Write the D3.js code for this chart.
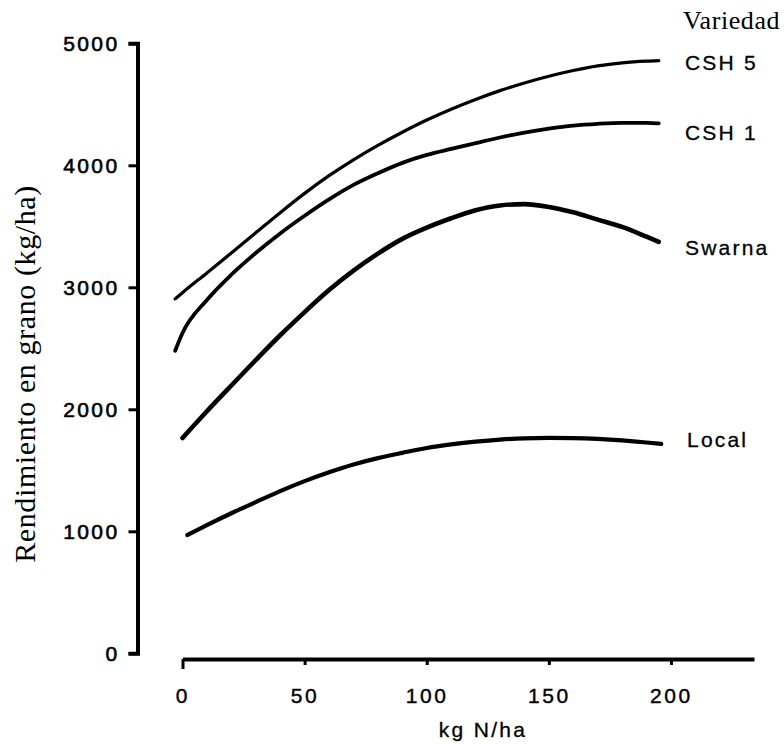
<!DOCTYPE html>
<html>
<head>
<meta charset="utf-8">
<script src="https://cdn.jsdelivr.net/npm/d3@7/dist/d3.min.js"></script>
<style>
  html, body { margin: 0; padding: 0; background: #fff; }
  svg { display: block; }
  .sans { font-family: "Liberation Sans", Arial, Helvetica, sans-serif; }
  .serif { font-family: "Liberation Serif", "Times New Roman", serif; }
</style>
</head>
<body>
<svg id="chart" width="784" height="744"></svg>
<script>
// Nitrogen rates (kg N/ha) at which each response curve is traced
const nCSH = [-3, 0, 10, 20, 30, 40, 50, 60, 70, 80, 90, 100, 110, 120, 130, 140, 150, 160, 170, 180, 190, 195];
const nSwarna = [0, 10, 20, 30, 40, 50, 60, 70, 80, 90, 100, 110, 120, 130, 140, 150, 160, 170, 180, 190, 195];
const nLocal = [2, 10, 20, 30, 40, 50, 60, 70, 80, 90, 100, 110, 120, 130, 140, 150, 160, 170, 180, 190, 196];

// Grain yield (kg/ha) for each variety
const yieldCSH5 = [2905, 2956, 3118, 3282, 3447, 3612, 3770, 3915, 4045, 4163, 4271, 4371, 4460, 4540, 4612, 4675, 4730, 4777, 4815, 4840, 4854, 4858];
const yieldCSH1 = [2480, 2625, 2896, 3103, 3281, 3441, 3586, 3720, 3839, 3935, 4020, 4085, 4135, 4182, 4228, 4268, 4300, 4325, 4340, 4348, 4347, 4343];
const yieldSwarna = [1765, 1984, 2195, 2404, 2607, 2797, 2977, 3136, 3276, 3397, 3489, 3566, 3632, 3671, 3682, 3659, 3615, 3555, 3495, 3415, 3373];
const yieldLocal = [970, 1051, 1148, 1239, 1329, 1411, 1484, 1548, 1600, 1643, 1683, 1712, 1735, 1752, 1762, 1766, 1764, 1757, 1745, 1728, 1716];

const varieties = ["CSH 5", "CSH 1", "Swarna", "Local"];

// Axis ticks
const xTicks = [0, 50, 100, 150, 200];
const yTicks = [0, 1000, 2000, 3000, 4000, 5000];

// ---- layout ----
const svg = d3.select("#chart");
svg.append("rect").attr("width", 784).attr("height", 744).attr("fill", "#fff");

const x = d3.scaleLinear().domain([0, 234]).range([182.5, 754]);
const y = d3.scaleLinear().domain([0, 5000]).range([653.3, 43.3]);
const xAxisY = 659;
const yAxisX = 137.5;

const series = [
  { name: varieties[0], n: nCSH, v: yieldCSH5, w: 3.2, labelY: 70 },
  { name: varieties[1], n: nCSH, v: yieldCSH1, w: 3.8, labelY: 140 },
  { name: varieties[2], n: nSwarna, v: yieldSwarna, w: 4.6, labelY: 255 },
  { name: varieties[3], n: nLocal, v: yieldLocal, w: 4.2, labelY: 446.5 }
];

// ---- y axis ----
const gy = svg.append("g")
  .attr("transform", `translate(${yAxisX},0)`)
  .call(d3.axisLeft(y).tickValues(yTicks).tickSize(9).tickSizeOuter(9).tickPadding(9).tickFormat(d3.format("d")));
gy.select(".domain").attr("stroke", "#000").attr("stroke-width", 4).attr("fill", "none");
gy.selectAll(".tick line").attr("stroke", "#000").attr("stroke-width", 3);
gy.selectAll(".tick text")
  .attr("class", "sans")
  .attr("font-size", 21)
  .attr("letter-spacing", 2.4)
  .attr("fill", "#000")
  .attr("stroke", "#000")
  .attr("stroke-width", 0.6);

// ---- x axis ----
const gx = svg.append("g")
  .attr("transform", `translate(0,${xAxisY})`)
  .call(d3.axisBottom(x).tickValues(xTicks).tickSize(6).tickSizeOuter(0).tickPadding(0));
gx.select(".domain").attr("stroke", "#000").attr("stroke-width", 4.2);
gx.selectAll(".tick line")
  .attr("stroke", "#000")
  .attr("stroke-width", 3)
  .attr("y2", d => d === 0 ? 10 : 6);
gx.selectAll(".tick text")
  .attr("class", "sans")
  .attr("font-size", 21)
  .attr("letter-spacing", 2.6)
  .attr("y", 44)
  .attr("dy", 0)
  .attr("fill", "#000")
  .attr("stroke", "#000")
  .attr("stroke-width", 0.4);

// ---- response curves ----
const line = d3.line()
  .x(d => x(d[0]))
  .y(d => y(d[1]))
  .curve(d3.curveMonotoneX);

svg.append("g").selectAll("path")
  .data(series)
  .join("path")
  .attr("d", s => line(s.n.map((n, i) => [n, s.v[i]])))
  .attr("fill", "none")
  .attr("stroke", "#000")
  .attr("stroke-width", s => s.w)
  .attr("stroke-linecap", "round")
  .attr("stroke-linejoin", "round");

// ---- variety labels ----
svg.append("g").selectAll("text")
  .data(series)
  .join("text")
  .attr("class", "sans")
  .attr("x", (s, i) => i === 3 ? 687 : 685)
  .attr("y", s => s.labelY)
  .attr("font-size", 21)
  .attr("letter-spacing", 2.2)
  .attr("fill", "#000")
  .attr("stroke", "#000")
  .attr("stroke-width", 0.3)
  .text(s => s.name);

svg.append("text")
  .attr("class", "serif")
  .attr("x", 683)
  .attr("y", 29)
  .attr("font-size", 26)
  .attr("letter-spacing", 0.6)
  .attr("fill", "#000")
  .text("Variedad");

// ---- axis titles ----
svg.append("text")
  .attr("class", "sans")
  .attr("x", 483)
  .attr("y", 737)
  .attr("text-anchor", "middle")
  .attr("font-size", 21)
  .attr("letter-spacing", 2.3)
  .attr("fill", "#000")
  .attr("stroke", "#000")
  .attr("stroke-width", 0.3)
  .text("kg N/ha");

svg.append("text")
  .attr("class", "serif")
  .attr("transform", "translate(35,374) rotate(-90)")
  .attr("text-anchor", "middle")
  .attr("font-size", 30)
  .attr("letter-spacing", 0.6)
  .attr("fill", "#000")
  .text("Rendimiento en grano (kg/ha)");
</script>
</body>
</html>
